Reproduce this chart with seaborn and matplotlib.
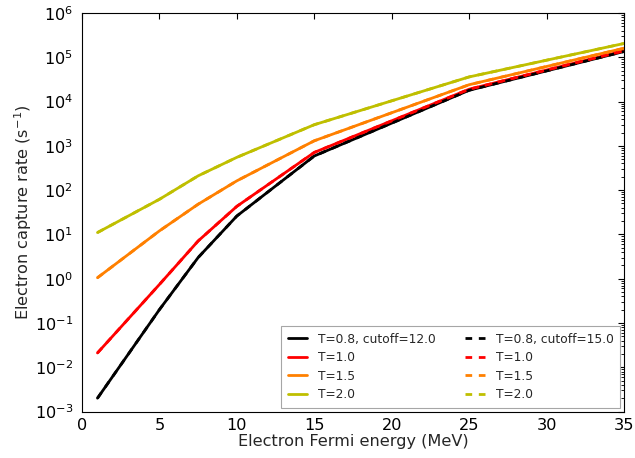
import matplotlib
matplotlib.use("Agg")
import matplotlib.pyplot as plt
import seaborn as sns
import numpy as np
from matplotlib.ticker import LogLocator, MultipleLocator

# ---- data ----
fermi_energy = [1, 5, 7.5, 10, 15, 25, 35]

rate_T08_c12 = [2.0e-3, 0.20, 3.0, 26, 590, 1.8e4, 1.35e5]
rate_T10_c12 = [0.021, 0.74, 7.1, 43, 710, 1.9e4, 1.4e5]
rate_T15_c12 = [1.05, 12, 48, 162, 1300, 2.4e4, 1.6e5]
rate_T20_c12 = [11, 62, 210, 550, 3000, 3.6e4, 2.05e5]

rate_T08_c15 = [2.0e-3, 0.20, 3.0, 26, 590, 1.8e4, 1.35e5]
rate_T10_c15 = [0.021, 0.74, 7.1, 43, 710, 1.9e4, 1.4e5]
rate_T15_c15 = [1.05, 12, 48, 162, 1300, 2.4e4, 1.6e5]
rate_T20_c15 = [11, 62, 210, 550, 3000, 3.6e4, 2.05e5]

labels_c12 = ["T=0.8, cutoff=12.0", "T=1.0", "T=1.5", "T=2.0"]
labels_c15 = ["T=0.8, cutoff=15.0", "T=1.0", "T=1.5", "T=2.0"]
colors = ["#000000", "#FF0000", "#FF8000", "#BFBF00"]

sns.set_style("white")
plt.rcParams["font.family"] = ["DejaVu Sans"]
plt.rcParams["lines.scale_dashes"] = False
plt.rcParams["mathtext.default"] = "regular"
plt.rcParams["axes.unicode_minus"] = False

W, H, DPI = 635, 458, 80
fig = plt.figure(figsize=(W / DPI, H / DPI), dpi=DPI)
left, right, top, bottom = 82, 624, 13, 411.5
ax = fig.add_axes([left / W, 1 - bottom / H, (right - left) / W, (bottom - top) / H])

series_c12 = [rate_T08_c12, rate_T10_c12, rate_T15_c12, rate_T20_c12]
series_c15 = [rate_T08_c15, rate_T10_c15, rate_T15_c15, rate_T20_c15]

for y, c, lab in zip(series_c12, colors, labels_c12):
    sns.lineplot(x=fermi_energy, y=y, color=c, lw=2.5, label=lab, ax=ax)
for y, c, lab in zip(series_c15, colors, labels_c15):
    sns.lineplot(x=fermi_energy, y=y, color=c, lw=2.5, ls=(0, (6, 6)), label=lab, ax=ax)

ax.set_yscale("log")
ax.set_xlim(0, 35)
ax.set_ylim(1e-3, 1e6)
ax.xaxis.set_major_locator(MultipleLocator(5))
ax.yaxis.set_major_locator(LogLocator(base=10, numticks=20))
ax.yaxis.set_minor_locator(LogLocator(base=10, subs=np.arange(2, 10), numticks=20))

for s in ax.spines.values():
    s.set_color("black")
    s.set_linewidth(1.0)
ax.tick_params(which="both", direction="in", top=True, right=True, colors="black",
               labelsize=14.5)
ax.tick_params(which="major", length=5, width=1)
ax.tick_params(which="minor", length=2.5, width=0.8)
ax.tick_params(axis="x", pad=6)
ax.tick_params(axis="y", pad=8)

ax.set_xlabel("Electron Fermi energy (MeV)", fontsize=14.5, labelpad=1)
ax.set_ylabel("Electron capture rate (s$^{-1}$)", fontsize=14.5, labelpad=1)

leg = ax.legend(loc="lower right", ncol=2, fontsize=11, frameon=True, fancybox=False,
                edgecolor="0.65", framealpha=1.0, handlelength=1.6, handletextpad=0.9,
                labelspacing=0.45, columnspacing=2.4, borderaxespad=0.3, borderpad=0.55)
leg.get_frame().set_linewidth(1.0)

fig.savefig("out.png", dpi=DPI)
